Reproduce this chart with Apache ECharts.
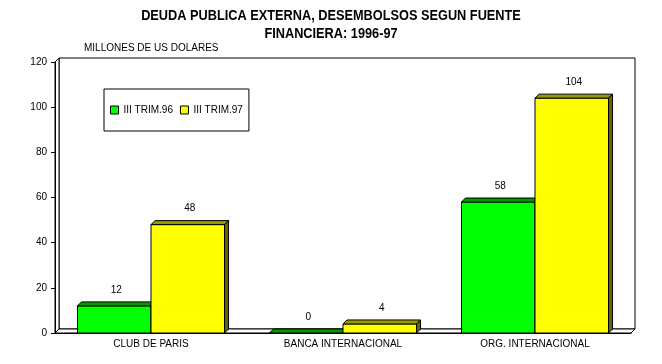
<!DOCTYPE html>
<html><head><meta charset="utf-8">
<script src="https://cdn.jsdelivr.net/npm/echarts@6/dist/echarts.min.js"></script>
<style>html,body{margin:0;padding:0;background:#fff}#c{width:662px;height:364px}</style>
</head><body><div id="c"></div>
<script>
const categories = ['CLUB DE PARIS', 'BANCA INTERNACIONAL', 'ORG. INTERNACIONAL'];
const trim96 = [12, 0, 58];
const trim97 = [48, 4, 104];
const seriesNames = ['III TRIM.96', 'III TRIM.97'];
const yTicks = [0, 20, 40, 60, 80, 100, 120];
const titleLines = ['DEUDA PUBLICA EXTERNA, DESEMBOLSOS SEGUN FUENTE', 'FINANCIERA: 1996-97'];

const G = {left: 55, right: 31, top: 62, bottom: 31};
const W = 662, H = 364, D = 4;
const gx0 = G.left, gx1 = W - G.right, gy0 = G.top, gy1 = H - G.bottom;

const faceColors = [
  {front: '#00ff00', top: '#009900', side: '#006600'},
  {front: '#ffff00', top: '#999900', side: '#666600'}
];
const FONT = 'Arial, "Liberation Sans", sans-serif';

function render(params, api) {
  const si = params.seriesIndex;
  const cat = api.value(0), v = api.value(1);
  const base = api.coord([cat, 0]);
  const top = api.coord([cat, v]);
  const band = api.size([1, 0])[0];
  const bw = band * 0.383;
  const x0 = si === 0 ? base[0] - bw : base[0];
  const c = faceColors[si];
  const st = {stroke: '#000', lineWidth: 1};
  const ty = top[1], by = base[1];
  return {
    type: 'group',
    children: [
      {type: 'rect', shape: {x: x0, y: ty, width: bw, height: by - ty}, style: Object.assign({fill: c.front}, st)},
      {type: 'polygon', shape: {points: [[x0, ty], [x0 + D, ty - D], [x0 + bw + D, ty - D], [x0 + bw, ty]]}, style: Object.assign({fill: c.top}, st)},
      {type: 'polygon', shape: {points: [[x0 + bw, ty], [x0 + bw + D, ty - D], [x0 + bw + D, by - D], [x0 + bw, by]]}, style: Object.assign({fill: c.side}, st)},
      {type: 'text', x: x0 + (bw + D) / 2, y: ty - 16, style: {text: String(v), fill: '#000', font: '10px ' + FONT, align: 'center', verticalAlign: 'middle'}}
    ]
  };
}

const chart = echarts.init(document.getElementById('c'), null, {renderer: 'canvas'});
chart.setOption({
  backgroundColor: '#fff',
  animation: false,
  title: [
    {text: 'MILLONES DE US DOLARES', left: 79, top: 38,
     textStyle: {fontFamily: FONT, fontWeight: 'normal', fontSize: 10, color: '#000'}}
  ],
  legend: {
    left: 104, top: 89, orient: 'horizontal',
    padding: [16, 6, 16, 6], itemGap: 7, itemWidth: 8, itemHeight: 8,
    borderColor: '#000', borderWidth: 1, backgroundColor: '#fff', borderRadius: 0,
    textStyle: {fontFamily: FONT, fontSize: 10, color: '#000'},
    data: [
      {name: seriesNames[0], icon: 'rect', itemStyle: {color: faceColors[0].front, borderColor: '#000', borderWidth: 1}},
      {name: seriesNames[1], icon: 'rect', itemStyle: {color: faceColors[1].front, borderColor: '#000', borderWidth: 1}}
    ]
  },
  grid: {left: G.left, right: G.right, top: G.top, bottom: G.bottom, containLabel: false},
  graphic: [
    {type: 'text', x: 331, y: 16, scaleX: 0.85, z: 10,
     style: {text: titleLines[0], font: 'bold 15px ' + FONT, fill: '#000', align: 'center', verticalAlign: 'middle'}},
    {type: 'text', x: 331, y: 34, scaleX: 0.85, z: 10,
     style: {text: titleLines[1], font: 'bold 15px ' + FONT, fill: '#000', align: 'center', verticalAlign: 'middle'}},
    {type: 'polygon', z: -10, shape: {points: [[gx0 + D, gy0 - D], [gx1 + D, gy0 - D], [gx1 + D, gy1 - D], [gx0 + D, gy1 - D]]}, style: {fill: '#fff', stroke: '#000', lineWidth: 1}},
    {type: 'polygon', z: -9, shape: {points: [[gx0, gy0], [gx0 + D, gy0 - D], [gx0 + D, gy1 - D], [gx0, gy1]]}, style: {fill: '#fff', stroke: '#000', lineWidth: 1}},
    {type: 'polygon', z: -9, shape: {points: [[gx0, gy1], [gx0 + D, gy1 - D], [gx1 + D, gy1 - D], [gx1, gy1]]}, style: {fill: '#fff', stroke: '#000', lineWidth: 1}}
  ],
  xAxis: {
    type: 'category', data: categories,
    axisLine: {show: true, lineStyle: {color: '#000', width: 1}},
    axisTick: {show: false},
    axisLabel: {color: '#000', fontFamily: FONT, fontSize: 10, margin: 6, interval: 0},
    splitLine: {show: false}
  },
  yAxis: {
    type: 'value', min: yTicks[0], max: yTicks[yTicks.length - 1], interval: yTicks[1] - yTicks[0],
    axisLine: {show: true, lineStyle: {color: '#000', width: 1}},
    axisTick: {show: true, length: 4, lineStyle: {color: '#000'}},
    axisLabel: {color: '#000', fontFamily: FONT, fontSize: 10, margin: 8},
    splitLine: {show: false}
  },
  series: [
    {name: seriesNames[0], type: 'custom', renderItem: render, clip: false,
     itemStyle: {color: faceColors[0].front},
     encode: {x: 0, y: 1}, data: trim96.map((v, i) => [i, v])},
    {name: seriesNames[1], type: 'custom', renderItem: render, clip: false,
     itemStyle: {color: faceColors[1].front},
     encode: {x: 0, y: 1}, data: trim97.map((v, i) => [i, v])}
  ]
});
</script></body></html>
